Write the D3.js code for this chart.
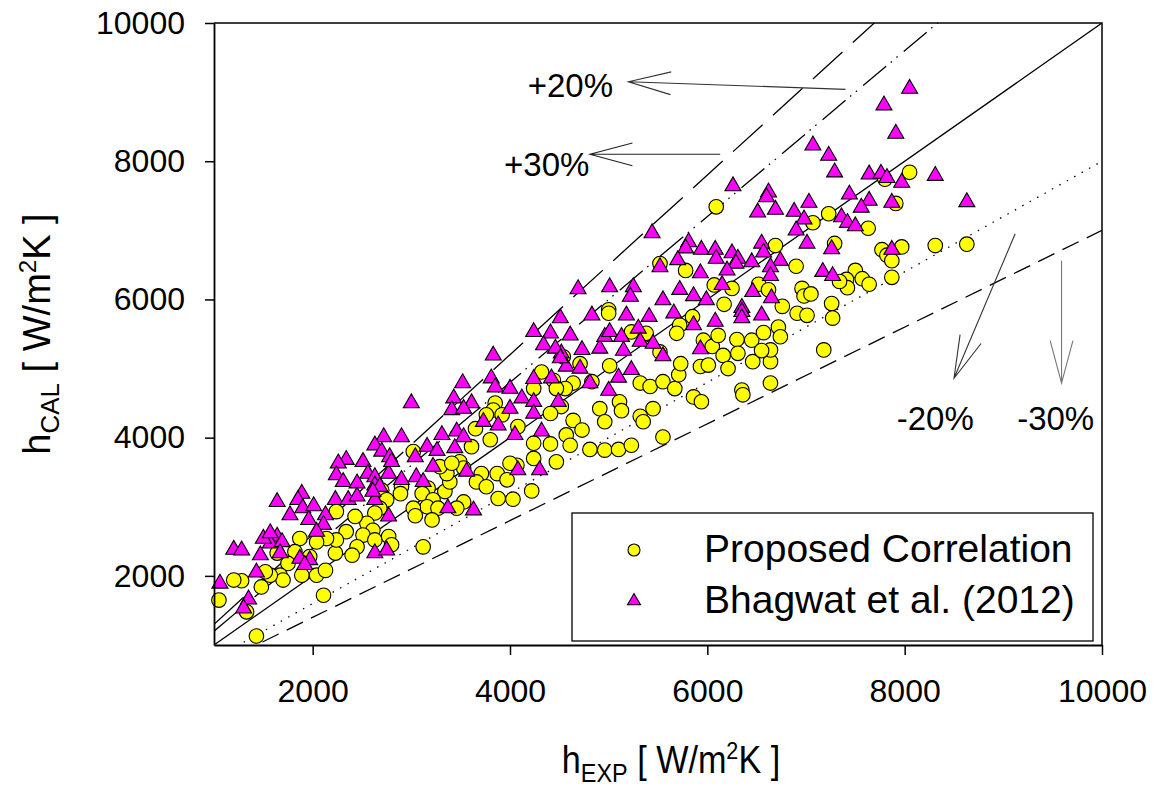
<!DOCTYPE html>
<html>
<head>
<meta charset="utf-8">
<script src="https://cdn.jsdelivr.net/npm/d3@7"></script>
<style>
  body { margin: 0; background: #fff; }
  svg { display: block; font-family: "Liberation Sans", Arial, sans-serif; }
</style>
</head>
<body>
<script>
//Data
const xTicks = [2000, 4000, 6000, 8000, 10000];
const yTicks = [2000, 4000, 6000, 8000, 10000];
const seriesNames = ["Proposed Correlation", "Bhagwat et al. (2012)"];

// deviation lines y = k * x
const bandFactors = [1, 1.2, 1.3, 0.8, 0.7];

// annotation labels and arrows (data units)
const bandLabels = ["+20%", "+30%", "-20%", "-30%"];
const labelPos = [[4180, 8930], [3940, 7780], [7920, 4110], [9140, 4110]];
const arrowFrom = [[7400, 9040], [6130, 8100], [9120, 6950], [9590, 6560]];
const arrowTo = [[5200, 9150], [4810, 8100], [8500, 4860], [9590, 4790]];

// h_EXP, h_CAL pairs
const proposed = [
  [8050,7840],[7800,7740],[7910,7390],[6090,7340],[7230,7240],[7070,7110],[7630,7030],[7290,6810],
  [6690,6780],[7770,6720],[7970,6760],[7820,6640],[7870,6560],[8310,6780],[8630,6800],[7870,6320],
  [5520,6520],[5780,6420],[6900,6480],[7500,6420],[7410,6290],[7570,6300],[7640,6220],[7420,6170],
  [7340,6260],[6960,6160],[6980,6050],[7050,6080],[7260,5940],[6250,6160],[6070,6210],[6520,6220],
  [6620,6140],[6170,5930],[5000,5850],[6760,5900],
  [5000,5800],[4540,5170],[4710,5070],[5010,5040],[4830,4810],[4640,4790],[4560,4710],[4520,4450],
  [4910,4420],[5110,4520],[5130,4390],[4960,4230],[4640,4250],[4730,4110],[4570,4040],[4610,3890],
  [4810,3830],[4960,3820],[5100,3830],[5230,3890],[5320,4310],[5350,4230],[5450,4420],[5550,4010],
  [5320,4790],[5420,4740],[5550,4810],[5670,4710],[5710,4910],[5730,5070],[5860,4590],[5940,4520],
  [5930,5030],[6010,5050],[5960,5410],[6050,5320],[6160,5190],[6110,5480],[6210,5000],[6300,5420],
  [6310,5220],[6450,5410],[6460,5100],[6350,4690],[6360,4620],[6640,4790],[6640,5100],[6640,5270],
  [6550,5260],[6570,5520],[6720,5600],[6740,5460],[5850,5750],[5720,5630],[5690,5510],[5230,5530],
  [5380,5510],[5520,5240],[6910,5800],[7010,5770],[7180,5270],[7270,5730],
  [4320,4950],[4240,4710],[4440,4830],[4470,4710],[4410,4350],[4080,4160],[4240,3920],[4410,3910],
  [4240,3700],[4470,3650],[4070,3600],[4000,3630],[4220,3230],[3850,4500],[3830,4400],[3760,4330],
  [3920,4330],[3650,4130],[3800,3970],[3610,3870],[3490,3650],[3530,3560],[3710,3480],[3870,3480],
  [3970,3390],[3660,3360],[3760,3290],[3880,3120],[4030,3110],[3530,3070],[3460,2980],[3340,3220],
  [3390,3360],[3360,3480],[3290,3580],[3410,3630],[3170,3270],[3110,3190],[3220,3100],[3160,3000],
  [3270,2980],[3020,2980],[3040,2870],[3210,2810],[2900,3290],[2890,3190],[3020,3800],[2700,3240],
  [2750,3100],[2680,2980],[2630,2910],[2550,2760],[2610,2660],[2510,2590],[2630,2520],[2770,2570],
  [2800,2450],[2430,2860],[2340,2640],[2450,2420],[2400,2300],[2230,2330],[2240,2520],[2240,2930],
  [2140,2540],[2040,2490],[1870,2540],[1820,2350],[1970,2280],[1890,2010],[2040,2010],[2130,2080],
  [1750,2180],[1670,2010],[1700,1940],[1570,2010],[1520,2060],[1480,1840],[1640,2330],[1280,1930],
  [1200,1940],[1050,1650],[1330,1480],[1430,1130],[2110,1720],[3120,2420]
];

const bhagwat = [
  [8050,9050],[7790,8810],[7910,8400],[7070,8230],[7230,8080],[7290,7840],[7640,7810],[7760,7820],
  [7820,7760],[7970,7690],[8310,7790],[8630,7410],[6260,7640],[6620,7550],[6600,7480],[7440,7520],
  [7640,7430],[7560,7330],[7870,7400],[6510,7260],[6690,7300],[6880,7270],[7030,7400],[6980,7160],
  [6900,7000],[7360,7190],[7420,7110],[7500,7060],[5440,6960],[7010,6810],[7260,6730],[7870,6720],
  [5810,6830],[5780,6740],[5940,6720],[6080,6720],[6250,6670],[6310,6590],[6450,6540],[6550,6810],
  [6570,6680],[6740,6560],[5700,6570],[5520,6470],[6090,6590],[6290,6520],[5930,6380],[6200,6420],
  [6640,6470],[6640,6340],[7170,6400],[7270,6340],[5010,6180],[5250,6180],[5720,6140],[5860,6050],
  [6150,6210],[6460,6110],[6650,6020],[5990,5990],[5220,6040],[5550,5990],[6350,5880],
  [4690,6150],[4510,5730],[4610,5480],[4830,5770],[4520,5220],[4570,5030],[4710,5000],[4730,5270],
  [4810,4790],[4910,5290],[4960,5460],[5010,5530],[5000,4680],[5100,4870],[5130,5460],[5150,5260],
  [5230,4980],[5300,5580],[5320,5390],[5410,5750],[5450,5360],[5550,5180],[5180,5770],[5660,5800],
  [5860,5630],[5930,5280],[6080,5680],[6350,5820],[6350,5730],[6550,5770],
  [4240,5530],[4410,5510],[4340,5340],[4460,5290],[3830,5190],[3810,4860],[4240,4850],[4420,4860],
  [4510,5150],[3520,4790],[3000,4500],[3430,4570],[3610,4500],[3410,4400],[3530,4420],[3850,4730],
  [4000,4710],[4120,4570],[4000,4420],[3880,4180],[3730,4230],[4240,4520],[4240,4350],[4490,4520],
  [4050,4040],[4320,4090],[3310,4040],[3460,4090],[3530,4010],[3160,3870],[3260,3810],[3440,3850],
  [3040,3720],[3220,3580],[3560,3510],[3630,2950],[3370,2980],[4080,3530],[4300,3530],[2900,4010],
  [2720,4010],[2630,3890],[2700,3800],[2780,3720],[2510,3650],[2340,3680],[2260,3630],[2560,3480],
  [2630,3430],[2770,3480],[2800,3650],[2630,3310],[2900,3390],[3050,3430],[3120,3360],[2240,3460],
  [2310,3360],[2450,3340],[2230,3100],[2360,3100],[2450,3150],[2630,3100],[2680,3290],[2610,3220],
  [2770,2860],[1890,3190],[1850,3100],[1640,3070],[1770,2880],[1900,2980],[1960,2810],[2010,3010],
  [2130,2880],[2110,2740],[2040,2640],[1640,2570],[1570,2470],[1500,2540],[1690,2490],[1470,2300],
  [1570,2620],[1200,2380],[1280,2370],[1430,2050],[1670,2330],[1870,2250],[1970,2230],[1920,2160],
  [2630,2330],[2750,2370],[1060,1890],[1350,1660],[1300,1530]
];

//Layout
const width = 1162;
const height = 791;
const plot = { left: 214, right: 1102, top: 23, bottom: 645 };
const font = "'Liberation Sans', Arial, sans-serif";

const svg = d3.select("body")
  .append("svg")
  .attr("width", width)
  .attr("height", height)
  .style("background-color", "white");

const x = d3.scaleLinear().domain([1000, 10000]).range([plot.left, plot.right]);
const y = d3.scaleLinear().domain([1000, 10000]).range([plot.bottom, plot.top]);

svg.append("clipPath")
  .attr("id", "plot-clip")
  .append("rect")
  .attr("x", plot.left)
  .attr("y", plot.top)
  .attr("width", plot.right - plot.left)
  .attr("height", plot.bottom - plot.top);

//Deviation lines
const lineStyle = {
  1: null,
  1.2: "30,6,1.5,6,1.5,8",
  1.3: "40,14",
  0.8: "1.5,7",
  0.7: "18,9"
};

svg.append("g")
  .attr("clip-path", "url(#plot-clip)")
  .selectAll("line")
  .data(bandFactors)
  .join("line")
  .attr("x1", x(1000))
  .attr("y1", k => y(1000 * k))
  .attr("x2", x(10000))
  .attr("y2", k => y(10000 * k))
  .attr("stroke", "#000")
  .attr("stroke-width", 1.3)
  .attr("stroke-dasharray", k => lineStyle[k]);

//Markers
const triPath = s => {
  const h = s * Math.sqrt(3) / 2;
  return `M0,${-h * 2 / 3}L${s / 2},${h / 3}L${-s / 2},${h / 3}Z`;
};

svg.append("g")
  .selectAll("circle")
  .data(proposed)
  .join("circle")
  .attr("cx", d => x(d[0]))
  .attr("cy", d => y(d[1]))
  .attr("r", 7.3)
  .attr("fill", "#ffff00")
  .attr("stroke", "#000")
  .attr("stroke-width", 1.1);

svg.append("g")
  .selectAll("path")
  .data(bhagwat)
  .join("path")
  .attr("d", triPath(16))
  .attr("transform", d => `translate(${x(d[0])},${y(d[1])})`)
  .attr("fill", "#ff00ff")
  .attr("stroke", "#000")
  .attr("stroke-width", 1.1);

//Axes
const xAxis = svg.append("g")
  .attr("transform", `translate(0,${plot.bottom})`)
  .call(d3.axisBottom(x).tickValues(xTicks).tickFormat(d3.format("d"))
    .tickSize(10).tickSizeOuter(0).tickPadding(24));

const yAxis = svg.append("g")
  .attr("transform", `translate(${plot.left},0)`)
  .call(d3.axisLeft(y).tickValues(yTicks).tickFormat(d3.format("d"))
    .tickSize(9).tickSizeOuter(0).tickPadding(20));

[xAxis, yAxis].forEach(g => {
  g.attr("font-family", font).attr("font-size", 32);
  g.selectAll("text").attr("fill", "#000");
  g.selectAll("line").attr("stroke", "#000").attr("stroke-width", 1.5);
  g.select(".domain").attr("stroke", "#000").attr("stroke-width", 1.8);
});

// frame top and right
svg.append("path")
  .attr("d", `M${plot.left},${plot.top}H${plot.right}V${plot.bottom}`)
  .attr("fill", "none")
  .attr("stroke", "#000")
  .attr("stroke-width", 1.5);

//Axis titles
const title = (g, sub) => {
  g.append("tspan").text("h");
  g.append("tspan").attr("font-size", 26).attr("dy", 9).text(sub);
  g.append("tspan").attr("dy", -9).text(" [ W/m");
  g.append("tspan").attr("font-size", 24).attr("dy", -14).text("2");
  g.append("tspan").attr("dy", 14).text("K ]");
};

svg.append("text")
  .attr("transform", "translate(671,773) scale(0.9,1)")
  .attr("text-anchor", "middle")
  .attr("font-size", 38)
  .attr("fill", "#000")
  .call(title, "EXP");

svg.append("text")
  .attr("transform", "translate(50,334) rotate(-90)")
  .attr("text-anchor", "middle")
  .attr("font-size", 38)
  .attr("fill", "#000")
  .call(title, "CAL");

//Annotations
svg.append("g")
  .selectAll("text")
  .data(bandLabels)
  .join("text")
  .attr("x", (d, i) => x(labelPos[i][0]))
  .attr("y", (d, i) => y(labelPos[i][1]))
  .attr("font-size", 33)
  .attr("fill", "#000")
  .text(d => d);

const arrowColor = ["#333", "#222", "#333", "#777"];
const arrows = svg.append("g").attr("fill", "none").attr("stroke-width", 1.1);
arrowFrom.forEach((f, i) => {
  const x0 = x(f[0]), y0 = y(f[1]);
  const x1 = x(arrowTo[i][0]), y1 = y(arrowTo[i][1]);
  const a = Math.atan2(y0 - y1, x0 - x1);
  const len = 44, spread = 15 * Math.PI / 180;
  const b1 = [x1 + len * Math.cos(a - spread), y1 + len * Math.sin(a - spread)];
  const b2 = [x1 + len * Math.cos(a + spread), y1 + len * Math.sin(a + spread)];
  arrows.append("path")
    .attr("d", `M${x0},${y0}L${x1},${y1}M${b1[0]},${b1[1]}L${x1},${y1}L${b2[0]},${b2[1]}`)
    .attr("stroke", arrowColor[i]);
});

//Legend
const legend = svg.append("g");
legend.append("rect")
  .attr("x", 572).attr("y", 513)
  .attr("width", 521).attr("height", 128)
  .attr("fill", "#fff")
  .attr("stroke", "#000")
  .attr("stroke-width", 1.3);

legend.append("circle")
  .attr("cx", 634).attr("cy", 550).attr("r", 6)
  .attr("fill", "#ffff00").attr("stroke", "#000").attr("stroke-width", 1.1);
legend.append("path")
  .attr("d", triPath(13))
  .attr("transform", "translate(634,601)")
  .attr("fill", "#ff00ff").attr("stroke", "#000").attr("stroke-width", 1.1);

legend.selectAll("text")
  .data(seriesNames)
  .join("text")
  .attr("x", 704)
  .attr("y", (d, i) => 562 + i * 51)
  .attr("font-size", 39)
  .attr("fill", "#000")
  .text(d => d);
</script>
</body>
</html>
